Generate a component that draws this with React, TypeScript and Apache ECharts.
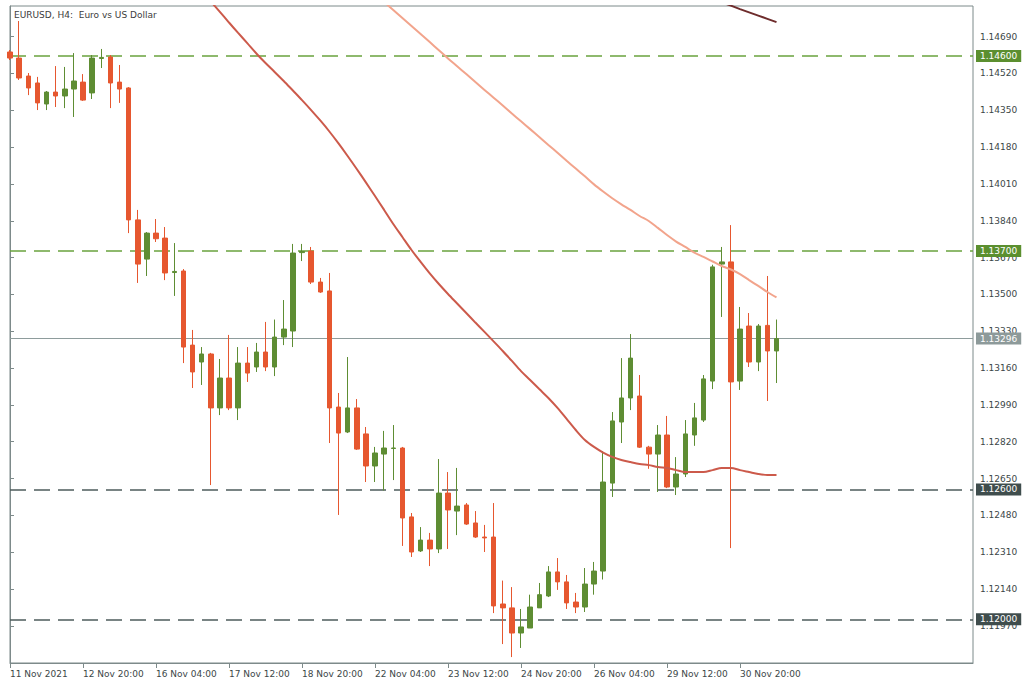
import React, { useEffect, useRef } from "react";
import * as echarts from "echarts";

const tickLabels = [
  "11 Nov 2021", "12 Nov 20:00", "16 Nov 04:00", "17 Nov 12:00", "18 Nov 20:00",
  "22 Nov 04:00", "23 Nov 12:00", "24 Nov 20:00", "26 Nov 04:00", "29 Nov 12:00", "30 Nov 20:00",
];
const tickBars = [0, 8, 16, 24, 32, 40, 48, 56, 64, 72, 80];

const priceTicks = [
  1.1197, 1.1214, 1.1231, 1.1248, 1.1265, 1.1282, 1.1299, 1.1316, 1.1333,
  1.135, 1.1367, 1.1384, 1.1401, 1.1418, 1.1435, 1.1452, 1.1469,
];

const opens = [
  1.14619, 1.14591, 1.14508, 1.14476, 1.14379, 1.14434, 1.14416, 1.14448, 1.1448, 1.1443,
  1.14589, 1.14596, 1.1448, 1.14453, 1.13844, 1.13663, 1.13783, 1.1376, 1.13601, 1.13608,
  1.13266, 1.13188, 1.13225, 1.12976, 1.13114, 1.12976, 1.13183, 1.13165, 1.13234, 1.13165,
  1.13303, 1.13331, 1.13693, 1.137, 1.13557, 1.13516, 1.1298, 1.12865, 1.12976, 1.12856,
  1.12708, 1.12763, 1.12789, 1.12791, 1.12473, 1.12316, 1.12366, 1.12325, 1.12583, 1.125,
  1.12528, 1.12445, 1.1238, 1.1238, 1.12071, 1.12053, 1.11937, 1.1196, 1.12053, 1.12108,
  1.12219, 1.12173, 1.1208, 1.12057, 1.12163, 1.12223, 1.12629, 1.12911, 1.13022, 1.13031,
  1.12795, 1.12763, 1.12851, 1.12611, 1.12671, 1.12851, 1.1292, 1.131, 1.1364, 1.1365,
  1.131, 1.13354, 1.13188, 1.13357, 1.13239,
];
const closes = [
  1.14591, 1.14499, 1.14453, 1.14384, 1.14434, 1.14416, 1.14448, 1.14485, 1.14397, 1.14591,
  1.14594, 1.14476, 1.14448, 1.13844, 1.1364, 1.13783, 1.13757, 1.13599, 1.13606, 1.13257,
  1.13142, 1.13225, 1.12976, 1.13114, 1.12976, 1.13183, 1.13137, 1.13234, 1.13165, 1.13303,
  1.1334, 1.13691, 1.13698, 1.13557, 1.13511, 1.12976, 1.1286, 1.12976, 1.12786, 1.12708,
  1.12768, 1.12791, 1.12791, 1.12468, 1.12311, 1.12366, 1.12325, 1.12583, 1.12505, 1.12523,
  1.1244, 1.1238, 1.12376, 1.12062, 1.12053, 1.11937, 1.11965, 1.12057, 1.12114, 1.12219,
  1.12173, 1.12076, 1.12057, 1.12163, 1.12223, 1.12634, 1.12916, 1.13022, 1.13206, 1.12795,
  1.12763, 1.12851, 1.12611, 1.12671, 1.12856, 1.1293, 1.1311, 1.13627, 1.1365, 1.13096,
  1.1334, 1.13188, 1.13354, 1.13239, 1.13296,
];
const lows = [
  1.14582, 1.1449, 1.1442, 1.14351, 1.14351, 1.14365, 1.1436, 1.14319, 1.14393, 1.14402,
  1.14545, 1.1436, 1.14384, 1.13783, 1.13553, 1.13585, 1.13742, 1.13566, 1.13493, 1.13183,
  1.13068, 1.13082, 1.1262, 1.12943, 1.12966, 1.1292, 1.13096, 1.13142, 1.13146, 1.13123,
  1.13266, 1.13257, 1.13654, 1.13548, 1.13507, 1.12814, 1.12482, 1.1286, 1.12782, 1.12634,
  1.12634, 1.12595, 1.12643, 1.12339, 1.12288, 1.12311, 1.12246, 1.12306, 1.12325, 1.12389,
  1.12436, 1.12376, 1.12311, 1.12029, 1.11886, 1.11826, 1.11868, 1.1196, 1.12053, 1.12103,
  1.12136, 1.12048, 1.12029, 1.12034, 1.12114, 1.12184, 1.12565, 1.12814, 1.12966, 1.12791,
  1.12695, 1.12588, 1.12606, 1.12574, 1.12657, 1.12801, 1.12911, 1.13063, 1.13396, 1.12329,
  1.13059, 1.13165, 1.13146, 1.13008, 1.13091,
];
const highs = [
  1.14628, 1.14762, 1.14522, 1.14504, 1.14439, 1.14554, 1.1455, 1.14614, 1.14517, 1.14605,
  1.14633, 1.14605, 1.14559, 1.14457, 1.1389, 1.13788, 1.13848, 1.13811, 1.13737, 1.13617,
  1.13336, 1.13257, 1.1323, 1.13202, 1.13313, 1.13257, 1.13257, 1.13276, 1.13373, 1.13384,
  1.13474, 1.13733, 1.13733, 1.13719, 1.13576, 1.13599, 1.13045, 1.13211, 1.13017, 1.12888,
  1.12796, 1.1287, 1.12897, 1.12796, 1.12491, 1.12426, 1.12399, 1.1274, 1.1268, 1.12699,
  1.12537, 1.125, 1.12436, 1.12537, 1.12179, 1.12149, 1.12048, 1.12114, 1.12168, 1.12246,
  1.12283, 1.12205, 1.12122, 1.12237, 1.12265, 1.12777, 1.12957, 1.13206, 1.13317, 1.13128,
  1.12801, 1.12897, 1.12939, 1.12749, 1.1292, 1.12999, 1.13128, 1.13637, 1.13719, 1.1382,
  1.13442, 1.13414, 1.13363, 1.13585, 1.13384,
];

// moving averages (first bar index + values)
const maFastStart = 21;
const maFast = [
  1.14901, 1.14852, 1.14804, 1.14755, 1.14707, 1.1466, 1.14612, 1.14568, 1.14527, 1.14485,
  1.14441, 1.14397, 1.14351, 1.14303, 1.14252, 1.14197, 1.14139, 1.14079, 1.14017, 1.13954,
  1.1389, 1.13825, 1.13765, 1.13705, 1.1365, 1.13597, 1.13548, 1.13502, 1.13458, 1.13414,
  1.1337, 1.13327, 1.13283, 1.13239, 1.13193, 1.13146, 1.13105, 1.13063, 1.13022, 1.12976,
  1.12925, 1.12874, 1.12828, 1.12796, 1.1277, 1.1275, 1.12736, 1.12726, 1.12717, 1.12712,
  1.12703, 1.12699, 1.12689, 1.1268, 1.1268, 1.1268, 1.12689, 1.12699, 1.12699, 1.12689,
  1.1268, 1.12671, 1.12666, 1.12666,
];
const maSlowStart = 40;
const maSlow = [
  1.14888, 1.1485, 1.14813, 1.14776, 1.14739, 1.14702, 1.14665, 1.14627, 1.14589, 1.14553,
  1.14517, 1.1448, 1.14444, 1.14408, 1.14372, 1.14335, 1.14299, 1.14263, 1.14227, 1.1419,
  1.14154, 1.14117, 1.14081, 1.14045, 1.14008, 1.13975, 1.13944, 1.13916, 1.1389, 1.13862,
  1.13839, 1.13807, 1.13774, 1.13744, 1.13719, 1.13693, 1.13673, 1.13652, 1.13631, 1.13615,
  1.13594, 1.13566, 1.13539, 1.13511, 1.13486,
];
const maLongStart = 78;
const maLong = [1.14848, 1.14833, 1.14817, 1.14802, 1.14787, 1.14772, 1.14757];

const levels = [1.146, 1.137, 1.13296, 1.126, 1.12];

const FONT = "'DejaVu Sans', sans-serif";
const UP = "#5e8d33";
const DOWN = "#e6572f";
const FRAME = "#7d8a8a";

export default function App() {
  const ref = useRef<HTMLDivElement>(null);
  useEffect(() => {
    const chart = echarts.init(ref.current!, null, { renderer: "svg" });
    const candleData = opens.map((o, i) => [i, o, closes[i], lows[i], highs[i]]);
    const toLine = (start: number, arr: number[]) => arr.map((v, k) => [start + k, v]);
    const levelStyle = [
      { color: "#6aa23e", type: [16, 8], bg: "#5b8f2f", width: 1.5 },
      { color: "#6aa23e", type: [16, 8], bg: "#5b8f2f", width: 1.5 },
      { color: "#8e9c9c", type: "solid", bg: "#8d9a9a", width: 1 },
      { color: "#4d5c5c", type: [16, 8], bg: "#3f4d4d", width: 1.5 },
      { color: "#4d5c5c", type: [16, 8], bg: "#3f4d4d", width: 1.5 },
    ];
    chart.setOption({
      animation: false,
      backgroundColor: "#ffffff",
      title: {
        text: "EURUSD, H4:  Euro vs US Dollar",
        left: 14,
        top: 10,
        padding: 0,
        textStyle: { fontSize: 9, fontWeight: "normal", fontFamily: FONT, color: "#3c3c3c" },
      },
      grid: {
        left: 10,
        top: 6,
        right: 51,
        bottom: 23,
        show: true,
        borderColor: FRAME,
        borderWidth: 1,
        backgroundColor: "#ffffff",
      },
      xAxis: {
        type: "value",
        min: 0,
        max: 963 / 9.125,
        splitLine: { show: false },
        axisLine: { show: true, lineStyle: { color: FRAME, width: 1 } },
        axisTick: { show: true, customValues: tickBars, length: 5, lineStyle: { color: FRAME } },
        axisLabel: {
          customValues: tickBars,
          formatter: (v: number) => tickLabels[Math.round(v / 8)] ?? "",
          align: "left",
          margin: 6,
          fontSize: 9,
          fontFamily: FONT,
          color: "#3c4747",
        },
      },
      yAxis: {
        type: "value",
        position: "right",
        min: 1.117986,
        max: 1.148313,
        scale: true,
        splitLine: { show: false },
        axisLine: { show: true, lineStyle: { color: FRAME, width: 1 } },
        axisTick: { show: true, customValues: priceTicks, length: 4, lineStyle: { color: FRAME } },
        axisLabel: {
          customValues: priceTicks,
          formatter: (v: number) => v.toFixed(5),
          margin: 7,
          fontSize: 9,
          fontFamily: FONT,
          color: "#3c4747",
        },
      },
      series: [
        {
          type: "candlestick",
          data: candleData,
          barWidth: 5,
          z: 3,
          itemStyle: {
            color: UP,
            color0: DOWN,
            borderColor: UP,
            borderColor0: DOWN,
            borderWidth: 1,
          },
          markLine: {
            silent: true,
            symbol: ["none", "none"],
            precision: 5,
            z: 2,
            data: levels.map((v, k) => ({
              yAxis: v,
              lineStyle: { color: levelStyle[k].color, type: levelStyle[k].type, width: levelStyle[k].width },
              label: {
                show: true,
                position: "end",
                distance: 3,
                formatter: () => v.toFixed(5),
                backgroundColor: levelStyle[k].bg,
                color: "#ffffff",
                fontSize: 9,
                fontFamily: FONT,
                lineHeight: 10,
                padding: [1, 4, 1, 4],
              },
            })),
          },
        },
        {
          type: "line",
          data: toLine(maFastStart, maFast),
          showSymbol: false,
          z: 4,
          smooth: 0.3,
          lineStyle: { color: "#cc5a4b", width: 2 },
        },
        {
          type: "line",
          data: toLine(maSlowStart, maSlow),
          showSymbol: false,
          z: 4,
          smooth: 0.3,
          lineStyle: { color: "#f2a48c", width: 2 },
        },
        {
          type: "line",
          data: toLine(maLongStart, maLong),
          showSymbol: false,
          z: 4,
          lineStyle: { color: "#6e2c2c", width: 2 },
        },
      ],
    });
    return () => chart.dispose();
  }, []);
  return (
    <div
      ref={ref}
      style={{ position: "absolute", left: 0, top: 0, width: 1024, height: 686, background: "#ffffff" }}
    />
  );
}
